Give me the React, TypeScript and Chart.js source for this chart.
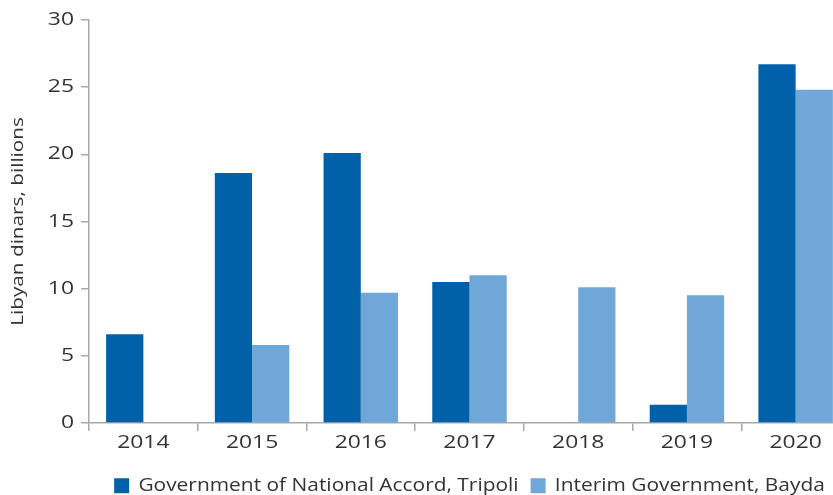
import React, { useEffect, useRef } from "react";
import { Chart, registerables } from "chart.js";

Chart.register(...registerables);

const categories = ["2014", "2015", "2016", "2017", "2018", "2019", "2020"];
const gnaTripoli = [6.6, 18.6, 20.1, 10.5, null, 1.35, 26.7];
const interimBayda = [null, 5.8, 9.7, 11.0, 10.1, 9.5, 24.8];
const seriesNames = ["Government of National Accord, Tripoli", "Interim Government, Bayda"];
const yTitle = "Libyan dinars, billions";

const FONT = "'Open Sans', sans-serif";
const TEXT = "#333333";
const AXIS = "#a8a8a8";

// Widen glyphs horizontally (along the text direction) to match the reference's wide typeface.
function stretchText(chart: any, obj: any, name: string, sx: number) {
  if (!obj || obj["__stretched_" + name]) return;
  const orig = obj[name];
  obj[name] = function (...args: any[]) {
    const ctx = chart.ctx as any;
    const protoFill = CanvasRenderingContext2D.prototype.fillText;
    const protoMeasure = CanvasRenderingContext2D.prototype.measureText;
    ctx.fillText = function (text: string, x: number, y: number) {
      this.save();
      this.translate(x, y);
      this.scale(sx, 1);
      protoFill.call(this, text, 0, 0);
      this.restore();
    };
    ctx.measureText = function (text: string) {
      const m = protoMeasure.call(this, text);
      return {
        width: m.width * sx,
        actualBoundingBoxAscent: m.actualBoundingBoxAscent,
        actualBoundingBoxDescent: m.actualBoundingBoxDescent,
        actualBoundingBoxLeft: m.actualBoundingBoxLeft * sx,
        actualBoundingBoxRight: m.actualBoundingBoxRight * sx,
      };
    };
    try {
      return orig.apply(this, args);
    } finally {
      delete ctx.fillText;
      delete ctx.measureText;
    }
  };
  obj["__stretched_" + name] = true;
}

const stretchPlugin = {
  id: "stretchText",
  beforeLayout(chart: any) {
    stretchText(chart, chart.scales.x, "drawLabels", 1.27);
    stretchText(chart, chart.scales.y, "drawLabels", 1.27);
    stretchText(chart, chart.scales.y, "drawTitle", 1.22);
    stretchText(chart, chart.legend, "fit", 1.13);
    stretchText(chart, chart.legend, "draw", 1.13);
  },
};

export default function App() {
  const ref = useRef<HTMLCanvasElement | null>(null);

  useEffect(() => {
    if (!ref.current) return;
    const chart = new Chart(ref.current, {
      type: "bar",
      data: {
        labels: categories,
        datasets: [
          {
            label: seriesNames[0],
            data: gnaTripoli,
            backgroundColor: "#0061a9",
            categoryPercentage: 0.685,
            barPercentage: 1.0,
          },
          {
            label: seriesNames[1],
            data: interimBayda,
            backgroundColor: "#70a7d9",
            categoryPercentage: 0.685,
            barPercentage: 1.0,
          },
        ],
      },
      plugins: [stretchPlugin],
      options: {
        animation: false,
        responsive: false,
        maintainAspectRatio: false,
        layout: { padding: { top: 20, right: 10, left: 0, bottom: 0 } },
        plugins: {
          tooltip: { enabled: false },
          legend: {
            position: "bottom",
            fullSize: false,
            labels: {
              font: { family: FONT, size: 18.5 },
              color: TEXT,
              boxWidth: 15,
              boxHeight: 15,
              padding: 12,
            },
          },
        },
        scales: {
          x: {
            offset: true,
            afterFit: (s: any) => {
              s.height += 10;
            },
            border: { display: true, color: AXIS, width: 1.5 },
            grid: {
              display: true,
              offset: true,
              drawOnChartArea: false,
              drawTicks: true,
              tickLength: 8,
              color: AXIS,
              lineWidth: 1.5,
            },
            ticks: {
              font: { family: FONT, size: 18 },
              color: TEXT,
              padding: 1,
              maxRotation: 0,
            },
          },
          y: {
            min: 0,
            max: 30,
            afterFit: (s: any) => {
              s.width = 89;
            },
            border: { display: true, color: AXIS, width: 1.5 },
            grid: {
              display: true,
              drawOnChartArea: false,
              drawTicks: true,
              tickLength: 8,
              color: AXIS,
              lineWidth: 1.5,
            },
            ticks: {
              stepSize: 5,
              font: { family: FONT, size: 18 },
              color: TEXT,
              padding: 7,
            },
            title: {
              display: true,
              text: yTitle,
              font: { family: FONT, size: 17 },
              color: TEXT,
              padding: { top: 8, bottom: 0 },
            },
          },
        },
      },
    });
    return () => chart.destroy();
  }, []);

  return (
    <div style={{ position: "fixed", left: 0, top: 0, width: 833, height: 495, overflow: "hidden", background: "#fff" }}>
      <canvas ref={ref} width={860} height={505} style={{ width: 860, height: 505, display: "block" }} />
    </div>
  );
}
